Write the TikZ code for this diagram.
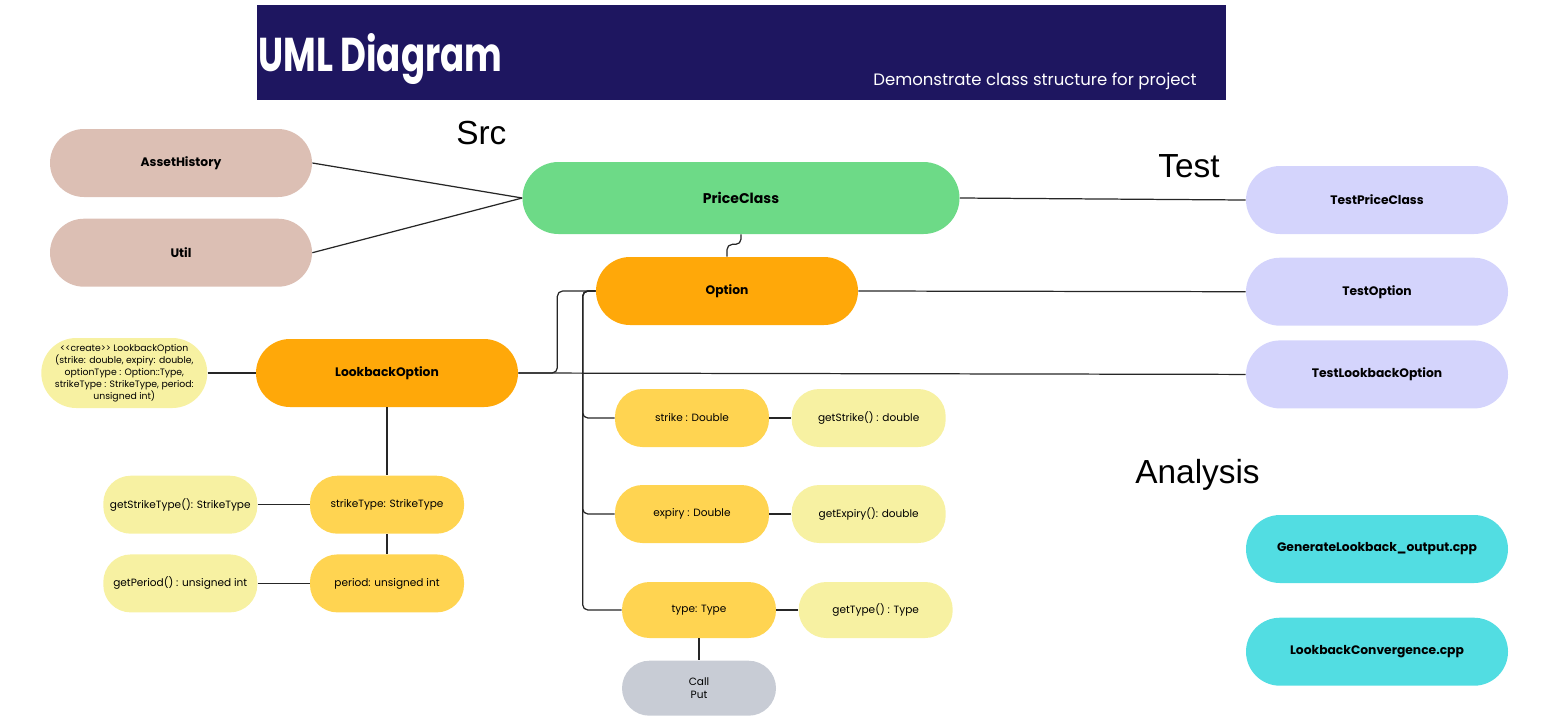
\documentclass[tikz,border=0pt]{standalone}
\usepackage{fontspec}
\setmainfont{Poppins}
\newfontfamily\headfont{Liberation Sans}
\newfontfamily\titlefont[FakeStretch=0.75]{Poppins}
\usepackage{xcolor}
\usetikzlibrary{positioning}

\definecolor{bannerNavy}{HTML}{1E1660}
\definecolor{utilBrown}{HTML}{DCBFB4}
\definecolor{classGreen}{HTML}{6DDA87}
\definecolor{testLilac}{HTML}{D4D4FC}
\definecolor{runCyan}{HTML}{52DDE2}
\definecolor{classOrange}{HTML}{FFA809}
\definecolor{fieldYellow}{HTML}{FFD451}
\definecolor{getterYellow}{HTML}{F7F1A2}
\definecolor{enumGrey}{HTML}{C8CCD5}

\begin{document}
\begin{tikzpicture}[
    pill/.style={rounded corners=0.68cm, minimum width=5.24cm, minimum height=1.36cm,
        inner sep=0pt, align=center, font=\fontsize{7}{8}\selectfont\bfseries},
    field/.style={rounded corners=0.55cm, minimum width=3.08cm, minimum height=1.16cm,
        inner sep=0pt, align=center, font=\fontsize{6}{7.4}\selectfont},
    heading/.style={anchor=base west, inner sep=0pt, font=\headfont\fontsize{19}{20}\selectfont},
    link/.style={line width=0.7pt, draw=black!85, rounded corners=3pt}
]
    \useasboundingbox (0,0) rectangle (31,-14.48);

    % banner
    \node[fill=bannerNavy, anchor=north west, inner sep=0pt,
        minimum width=19.38cm, minimum height=1.9cm] (banner) at (5.14,-0.1) {};
    \node[anchor=base west, inner sep=0pt, text=white,
        font=\titlefont\bfseries\fontsize{27}{27}\selectfont] (title) at (5.16,-1.42) {UML Diagram};
    \node[anchor=base east, inner sep=0pt, text=white,
        font=\fontsize{9.4}{11}\selectfont] (subtitle) at (23.94,-1.70) {Demonstrate class structure for project};

    \node[heading] (srcLabel) at (9.12,-2.88) {Src};
    \node[heading] (testLabel) at (23.16,-3.54) {Test};
    \node[heading] (analysisLabel) at (22.70,-9.66) {Analysis};

    % src classes
    \node[pill, fill=utilBrown] (assetHistory) at (3.62,-3.26) {AssetHistory};
    \node[pill, fill=utilBrown, below=0.42cm of assetHistory] (util) {Util};
    \node[pill, fill=classGreen, minimum width=8.74cm, minimum height=1.44cm, rounded corners=0.72cm,
        font=\fontsize{8}{9}\selectfont\bfseries] (priceClass) at (14.82,-3.96) {PriceClass};
    \node[pill, fill=classOrange] (option) at (14.54,-5.82) {Option};
    \node[pill, fill=classOrange] (lookbackOption) at (7.74,-7.46) {LookbackOption};
    \node[fill=getterYellow, rounded corners=0.7cm, minimum width=3.32cm, minimum height=1.4cm,
        inner sep=0pt, align=center, font=\fontsize{5.3}{6.8}\selectfont,
        left=0.96cm of lookbackOption] (createNote)
        {\textless\kern0pt\textless\kern0pt create\kern0pt\textgreater\kern0pt\textgreater{} LookbackOption\\
         (strike: double, expiry: double,\\
         optionType : Option::Type,\\
         strikeType : StrikeType, period:\\
         unsigned int)};

    % test and analysis files
    \node[pill, fill=testLilac] (testPriceClass) at (27.54,-4.0) {TestPriceClass};
    \node[pill, fill=testLilac, below=0.46cm of testPriceClass] (testOption) {TestOption};
    \node[pill, fill=testLilac, below=0.28cm of testOption] (testLookbackOption) {TestLookbackOption};
    \node[pill, fill=runCyan] (generateOutput) at (27.54,-10.98) {GenerateLookback\_output.cpp};
    \node[pill, fill=runCyan, below=0.68cm of generateOutput] (convergence) {LookbackConvergence.cpp};

    % members of Option
    \node[field, fill=fieldYellow] (strike) at (13.84,-8.36) {strike : Double};
    \node[field, fill=getterYellow, right=0.44cm of strike] (getStrike) {getStrike() : double};
    \node[field, fill=fieldYellow] (expiry) at (13.84,-10.28) {expiry : Double};
    \node[field, fill=getterYellow, right=0.44cm of expiry] (getExpiry) {getExpiry(): double};
    \node[field, fill=fieldYellow, minimum height=1.12cm] (type) at (13.98,-12.2) {type: Type};
    \node[field, fill=getterYellow, minimum height=1.12cm, right=0.44cm of type] (getType) {getType() : Type};
    \node[field, fill=enumGrey, minimum height=1.1cm, below=0.44cm of type] (callPut) {Call\\Put};

    % members of LookbackOption
    \node[field, fill=fieldYellow, below=1.36cm of lookbackOption] (strikeType) {strikeType: StrikeType};
    \node[field, fill=fieldYellow, below=0.4cm of strikeType] (period) {period: unsigned int};
    \node[field, fill=getterYellow, left=1.04cm of strikeType] (getStrikeType) {getStrikeType(): StrikeType};
    \node[field, fill=getterYellow, left=1.04cm of period] (getPeriod) {getPeriod() : unsigned int};

    % connectors
    \draw[link] (assetHistory.east) -- (priceClass.west);
    \draw[link] (util.east) -- (priceClass.west);
    \draw[link] (priceClass.east) -- (testPriceClass.west);
    \draw[link] (priceClass.south) -- ++(0,-0.2) -| (option.north);
    \draw[link] (option.east) -- (testOption.west);
    \draw[link] (lookbackOption.east) -- (testLookbackOption.west);
    \draw[link] (lookbackOption.east) -- ++(0.78,0) |- (option.west);
    \foreach \member in {strike, expiry, type}
        \draw[link] (option.west) -- ++(-0.26,0) |- (\member.west);
    \draw[link] (strike) -- (getStrike);
    \draw[link] (expiry) -- (getExpiry);
    \draw[link] (type) -- (getType);
    \draw[link] (type) -- (callPut);
    \draw[link] (createNote) -- (lookbackOption);
    \draw[link] (lookbackOption) -- (strikeType);
    \draw[link] (strikeType) -- (period);
    \draw[link] (getStrikeType) -- (strikeType);
    \draw[link] (getPeriod) -- (period);
\end{tikzpicture}
\end{document}
